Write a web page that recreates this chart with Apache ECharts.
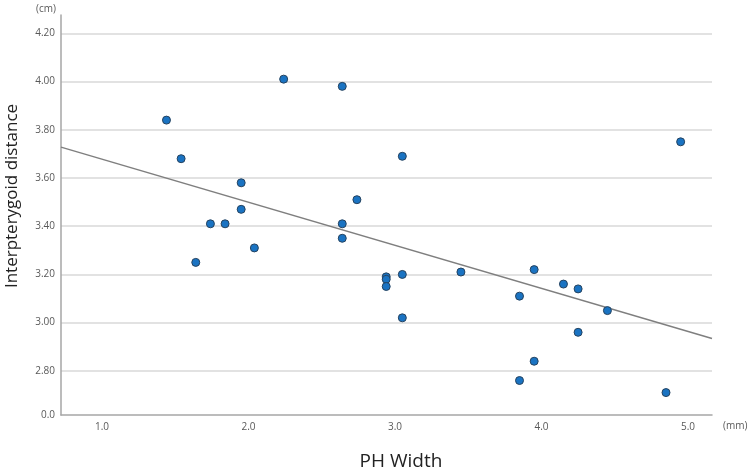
<!DOCTYPE html>
<html>
<head>
<meta charset="utf-8">
<script src="https://cdn.jsdelivr.net/npm/echarts@6/dist/echarts.min.js"></script>
<style>
html,body{margin:0;padding:0;background:#fff;}
#chart{width:750px;height:476px;}
</style>
</head>
<body>
<div id="chart"></div>
<script>
// PH Width (mm)
const xValues = [1.44, 1.54, 1.64, 1.74, 1.84, 1.95, 1.95, 2.04, 2.24, 2.64, 2.64, 2.64, 2.74, 2.94, 2.94, 2.94, 3.05, 3.05, 3.05, 3.45, 3.85, 3.85, 3.95, 3.95, 4.15, 4.25, 4.25, 4.45, 4.85, 4.95];
// Interpterygoid distance (cm)
const yValues = [3.84, 3.68, 3.25, 3.41, 3.41, 3.58, 3.47, 3.31, 4.01, 3.98, 3.41, 3.35, 3.51, 3.19, 3.18, 3.15, 3.69, 3.20, 3.02, 3.21, 3.11, 2.76, 3.22, 2.84, 3.16, 3.14, 2.96, 3.05, 2.71, 3.75];
// trend line end points
const trendX = [0.72, 5.164];
const trendY = [3.728, 2.934];
// axis ticks
const xTicks = [1, 2, 3, 4, 5];
const yBreak = 2.617; // bottom of broken axis, labelled "0.0"
const yTicks = [2.8, 3.0, 3.2, 3.4, 3.6, 3.8, 4.0, 4.2];
const yLabelTicks = [yBreak].concat(yTicks);

const chart = echarts.init(document.getElementById('chart'));
const font = "'Open Sans', 'Noto Sans', sans-serif";

chart.setOption({
  animation: false,
  backgroundColor: '#ffffff',
  grid: { left: 61, right: 38, top: 15, bottom: 61, containLabel: false },
  xAxis: {
    type: 'value',
    min: 0.72,
    max: 5.164,
    axisLine: { show: true, lineStyle: { color: '#a6a6a6', width: 1.5 } },
    axisTick: { show: false, customValues: xTicks },
    splitLine: { show: false },
    axisLabel: {
      customValues: xTicks,
      formatter: v => v.toFixed(1),
      color: '#595959', fontSize: 10, fontFamily: font, margin: 7
    }
  },
  yAxis: {
    type: 'value',
    min: yBreak,
    max: 4.276,
    axisLine: { show: true, lineStyle: { color: '#a6a6a6', width: 1.5 } },
    axisTick: { show: false, customValues: yTicks },
    splitLine: { show: true, lineStyle: { color: '#d9d9d9', width: 1.5 } },
    axisLabel: {
      customValues: yLabelTicks,
      formatter: v => (v < 2.7 ? '0.0' : v.toFixed(2)),
      color: '#595959', fontSize: 10, fontFamily: font, margin: 6
    }
  },
  series: [
    {
      type: 'line',
      data: trendX.map((x, i) => [x, trendY[i]]),
      symbol: 'none',
      lineStyle: { color: '#7f7f7f', width: 1.5 },
      z: 2,
      silent: true
    },
    {
      type: 'scatter',
      data: xValues.map((x, i) => [x, yValues[i]]),
      symbol: 'circle',
      symbolSize: 8,
      itemStyle: { color: '#1a73c2', borderColor: '#26435f', borderWidth: 1, opacity: 1 },
      z: 3
    }
  ],
  graphic: [
    { type: 'text', left: 36, top: 4, style: { text: '(cm)', fill: '#595959', font: '10px ' + font } },
    { type: 'text', left: 723, top: 421, style: { text: '(mm)', fill: '#595959', font: '10px ' + font } },
    { type: 'text', x: 401, y: 462, style: { text: 'PH Width', fill: '#222', font: '19px ' + font, align: 'center', verticalAlign: 'middle' } },
    { type: 'text', x: 12, y: 196, rotation: Math.PI / 2, style: { text: 'Interpterygoid distance', fill: '#222', font: '17px ' + font, align: 'center', verticalAlign: 'middle' } }
  ]
});
</script>
</body>
</html>
